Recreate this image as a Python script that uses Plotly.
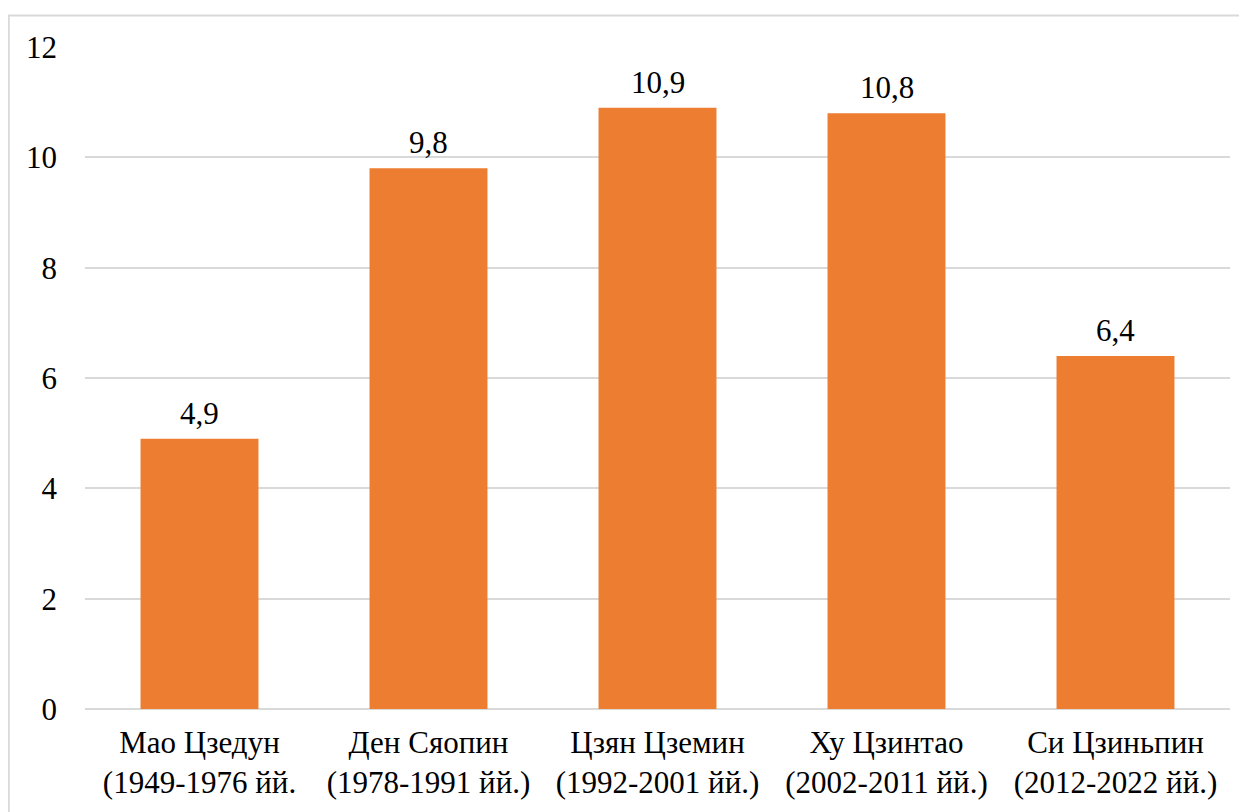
import plotly.graph_objects as go

categories = [
    "Мао Цзедун<br>(1949-1976 йй.",
    "Ден Сяопин<br>(1978-1991 йй.)",
    "Цзян Цземин<br>(1992-2001 йй.)",
    "Ху Цзинтао<br>(2002-2011 йй.)",
    "Си Цзиньпин<br>(2012-2022 йй.)",
]
values = [4.9, 9.8, 10.9, 10.8, 6.4]
y_ticks = [0, 2, 4, 6, 8, 10, 12]

FONT = "Liberation Serif, Times New Roman, serif"
FS = 31

fig = go.Figure(
    go.Bar(
        x=categories,
        y=values,
        marker=dict(color="#ED7D31", line=dict(width=0)),
        width=0.515,
        cliponaxis=False,
    )
)

# data labels, built from the values
for c, v in zip(categories, values):
    fig.add_annotation(
        x=c,
        y=v,
        text=f"{v:.1f}".replace(".", ","),
        showarrow=False,
        yanchor="bottom",
        yshift=6,
        font=dict(family=FONT, size=FS, color="black"),
    )

# page body has an 8px offset
W, H = 1239, 804
L, R, T, B = 77, 17, 39, 101
pw, ph = W - L - R, H - T - B

def px(x):
    return (x - L) / pw

def py(y):
    return (H - B - y) / ph

fig.update_layout(
    width=W,
    height=H,
    margin=dict(l=L, r=R, t=T, b=B),
    paper_bgcolor="white",
    plot_bgcolor="white",
    separators=",.",
    font=dict(family=FONT, size=FS, color="black"),
    showlegend=False,
    xaxis=dict(
        showgrid=False,
        showline=False,
        ticks="",
        tickfont=dict(family=FONT, size=FS, color="black"),
        ticklabelstandoff=12,
    ),
    yaxis=dict(
        range=[0, 12],
        tickvals=y_ticks,
        showgrid=True,
        gridcolor="#D9D9D9",
        gridwidth=1.5,
        zeroline=True,
        zerolinecolor="#D9D9D9",
        zerolinewidth=1.5,
        showline=False,
        ticks="",
        tickfont=dict(family=FONT, size=FS, color="black"),
        ticklabelstandoff=27,
    ),
    shapes=[
        dict(
            type="path",
            xref="paper",
            yref="paper",
            path=f"M {px(0.75)} {py(830)} L {px(0.75)} {py(7.5)} L {px(1260)} {py(7.5)}",
            line=dict(color="#D9D9D9", width=2),
            layer="below",
        )
    ],
)

fig.write_html("out.html")
